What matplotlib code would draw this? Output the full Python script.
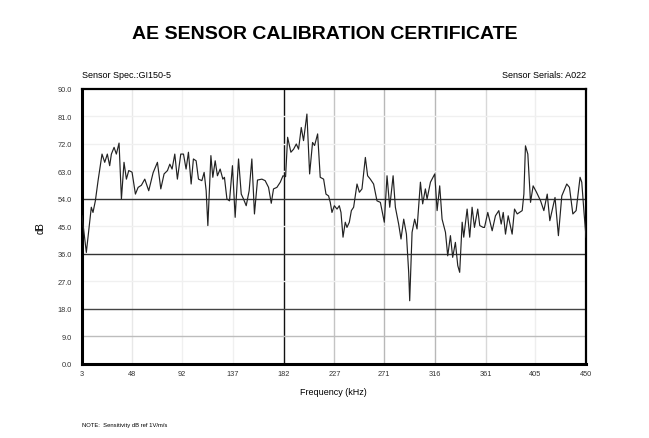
import matplotlib

matplotlib.use("Agg")
import matplotlib.pyplot as plt

plt.rcParams["font.family"] = ["Liberation Sans", "DejaVu Sans"]

# response curve (kHz, dB)
freq_khz = [
    3.3, 7.1, 11.5, 13.0, 15.1, 17.5, 21.0, 23.4, 25.7, 27.8, 29.3, 31.7, 33.7, 36.1,
    38.2, 40.5, 42.6, 44.7, 47.6, 50.6, 53.0, 55.9, 58.9, 62.4, 66.3, 70.1, 73.1, 76.0,
    79.0, 81.1, 83.1, 85.5, 87.8, 90.8, 93.2, 95.5, 97.6, 100.0, 102.0, 104.4, 106.5,
    109.5, 111.5, 113.3, 114.8, 117.5, 119.2, 121.3, 123.3, 125.7, 128.1, 129.5, 131.7,
    134.0, 136.6, 139.0, 142.0, 144.4, 146.4, 148.8, 151.4, 153.8, 156.1, 158.8, 162.7,
    165.6, 168.6, 171.0, 173.0, 176.0, 179.0, 181.4, 183.7, 185.5, 188.4, 190.8, 193.2,
    195.2, 197.6, 199.6, 202.6, 205.0, 207.6, 209.4, 212.1, 214.4, 217.4, 219.5, 221.8,
    223.3, 224.8, 226.9, 229.3, 231.3, 232.8, 234.6, 236.6, 238.1, 240.2, 242.0, 244.0,
    247.0, 249.1, 251.4, 254.4, 256.4, 258.8, 261.7, 264.7, 267.7, 271.2, 273.6, 276.0,
    279.0, 281.0, 283.9, 286.0, 288.4, 290.8, 292.8, 293.7, 295.8, 298.1, 300.2, 303.2,
    305.2, 307.6, 309.1, 312.1, 315.9, 318.0, 320.3, 322.4, 325.4, 327.4, 329.8, 331.8,
    334.2, 336.3, 338.0, 340.2, 341.6, 344.6, 346.9, 349.0, 351.1, 354.0, 355.8, 358.8,
    360.0, 362.9, 366.8, 369.7, 372.7, 374.8, 376.6, 378.6, 381.0, 384.5, 386.6, 389.0,
    393.4, 394.9, 396.3, 398.4, 400.8, 403.1, 406.1, 409.7, 412.6, 415.6, 417.9, 422.5,
    425.5, 428.5, 432.9, 435.3, 438.3, 441.2, 444.7, 446.2, 448.3, 450.0,
]
sens_db = [
    48.5, 36.5, 51.3, 49.6, 53.4, 60.0, 68.7, 66.0, 68.7, 64.9, 68.7, 70.9, 68.7, 72.3,
    54.0, 66.0, 60.5, 63.3, 62.8, 55.6, 57.8, 58.5, 60.5, 56.7, 62.6, 66.0, 57.3, 62.2,
    63.3, 65.4, 63.8, 68.7, 60.5, 68.7, 68.7, 63.8, 69.3, 58.9, 67.1, 66.5, 60.5,
    60.0, 62.7, 56.7, 45.3, 68.2, 61.1, 66.5, 61.6, 63.8, 60.5, 61.1, 54.0,
    53.4, 64.9, 48.0, 67.1, 55.6, 54.0, 51.8, 56.7, 67.1, 49.1, 60.2, 60.5,
    60.0, 57.8, 52.6, 57.3, 57.8, 59.5, 61.6, 61.3, 74.2, 69.3, 70.3, 72.0,
    70.3, 77.4, 73.1, 81.8, 62.2, 72.5, 71.5, 75.3, 61.1, 60.5, 55.6, 55.0,
    52.9, 49.6, 51.8, 50.7, 51.8, 49.6, 41.5, 46.4, 44.7, 46.4, 50.2, 51.3,
    58.9, 56.2, 57.3, 67.6, 61.6, 60.5, 58.9, 53.4, 52.9, 46.4, 61.6, 51.3,
    61.6, 51.3, 45.8, 40.9, 47.4, 42.5, 30.0, 20.7, 43.1, 47.4, 44.2, 59.5,
    52.4, 57.3, 54.0, 59.5, 62.2, 50.2, 58.3, 47.4, 43.1, 35.4, 42.0, 34.9,
    39.8, 32.2, 30.0, 46.4, 41.5, 50.7, 41.5, 51.3, 44.7, 50.7, 45.3, 44.7,
    44.7, 49.6, 43.6, 48.5, 50.2, 45.8, 49.6, 42.5, 48.5, 42.5, 50.7, 49.1,
    50.2, 55.6, 71.4, 68.7, 52.9, 58.3, 56.2, 53.4, 50.2, 55.6, 46.9, 54.5,
    42.0, 55.0, 58.9, 57.8, 49.1, 50.2, 61.1, 59.5, 49.1, 41.5,
]

x_ticks = [3, 48, 92, 137, 182, 227, 271, 316, 361, 405, 450]
y_ticks = [0, 9, 18, 27, 36, 45, 54, 63, 72, 81, 90]

# grid colour per tick, as drawn on the certificate
x_grid = {48: "#e8e8e8", 92: "#f0f0f0", 137: "#f0f0f0", 182: "#111111",
          227: "#c4c4c4", 271: "#b8b8b8", 316: "#b8b8b8", 361: "#d8d8d8",
          405: "#eeeeee"}
y_grid = {9: "#bdbdbd", 18: "#444444", 27: "#f0f0f0", 36: "#333333",
          45: "#f0f0f0", 54: "#333333", 63: "#f0f0f0", 72: "#f0f0f0",
          81: "#f0f0f0"}

fig = plt.figure(figsize=(6.49, 4.39), dpi=100)
ax = fig.add_axes([0.1259, 0.1686, 0.903 - 0.1259, 0.795 - 0.1686])

for v, c in x_grid.items():
    ax.axvline(v, color=c, linewidth=1.0, zorder=1)
for v, c in y_grid.items():
    ax.axhline(v, color=c, linewidth=1.0, zorder=1)

ax.plot(freq_khz, sens_db, color="#222222", linewidth=0.85, zorder=3)

ax.set_xlim(3, 450)
ax.set_ylim(0, 90)
ax.set_xticks(x_ticks)
ax.set_yticks(y_ticks)
ax.set_xticklabels([str(v) for v in x_ticks])
ax.set_yticklabels([f"{v:.1f}" for v in y_ticks])
ax.tick_params(length=0, labelsize=5.3, colors="#333333")
ax.tick_params(axis="x", pad=4)
ax.tick_params(axis="y", pad=7)
for s in ax.spines.values():
    s.set_linewidth(1.6)
    s.set_color("black")
ax.spines["left"].set_linewidth(2.2)
ax.spines["bottom"].set_linewidth(2.2)

fig.text(0.5, 0.922, "AE SENSOR CALIBRATION CERTIFICATE", ha="center", va="center",
         fontsize=14, fontweight="bold")
fig.text(0.1259, 0.827, "Sensor Spec.:GI150-5", ha="left", va="center", fontsize=6.5)
fig.text(0.903, 0.827, "Sensor Serials: A022", ha="right", va="center", fontsize=6.5)
fig.text(0.062, 0.48, "dB", rotation=90, ha="center", va="center", fontsize=7)
fig.text(0.513, 0.105, "Frequency (kHz)", ha="center", va="center", fontsize=6.5)
fig.text(0.1259, 0.03, "NOTE:  Sensitivity dB ref 1V/m/s", ha="left", va="center",
         fontsize=4.2)

fig.savefig("out.png", dpi=100, facecolor="white")
